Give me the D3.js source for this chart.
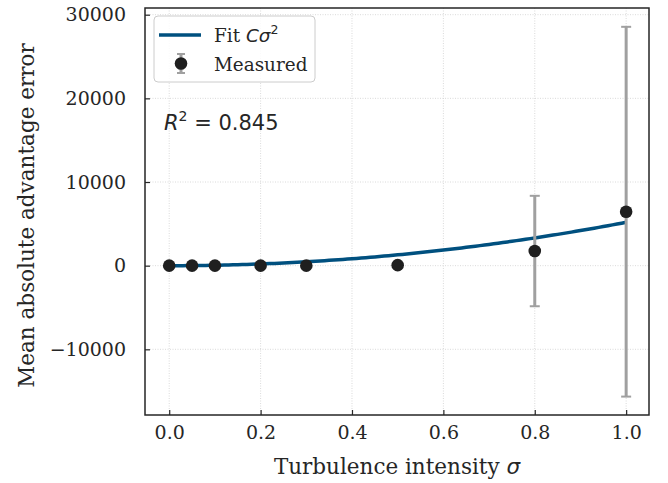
<!DOCTYPE html>
<html>
<head>
<meta charset="utf-8">
<script src="https://cdn.jsdelivr.net/npm/d3@7"></script>
<style>
  body { margin: 0; background: #fff; }
  svg text { font-family: "DejaVu Serif", serif; fill: #262626; }
</style>
</head>
<body>
<div id="chart"></div>
<script>
// measured values
const sigma = [0.0, 0.05, 0.1, 0.2, 0.3, 0.5, 0.8, 1.0];
const meanErr = [0, 0, 0, 0, 0, 60, 1750, 6450];
const stdErr = [0, 0, 0, 0, 0, 0, 6600, 22100];
const fitC = 5180;
const xTicks = [0.0, 0.2, 0.4, 0.6, 0.8, 1.0];
const yTicks = [-10000, 0, 10000, 20000, 30000];

const margin = {top: 8, right: 19, bottom: 68, left: 145},
    width = 668 - margin.left - margin.right,
    height = 483 - margin.top - margin.bottom;

const svg = d3.select("#chart")
  .append("svg")
    .attr("width", 668)
    .attr("height", 483)
  .append("g")
    .attr("transform", `translate(${margin.left},${margin.top})`);

const x = d3.scaleLinear().domain([-0.053, 1.05]).range([0, width]);
const y = d3.scaleLinear().domain([-17850, 30800]).range([height, 0]);

// grid
svg.append("g").selectAll("line").data(xTicks).join("line")
  .attr("x1", d => x(d)).attr("x2", d => x(d))
  .attr("y1", 0).attr("y2", height)
  .attr("stroke", "#d0d0d0").attr("stroke-width", 0.8)
  .attr("stroke-dasharray", "1,1.5");
svg.append("g").selectAll("line").data(yTicks).join("line")
  .attr("y1", d => y(d)).attr("y2", d => y(d))
  .attr("x1", 0).attr("x2", width)
  .attr("stroke", "#d0d0d0").attr("stroke-width", 0.8)
  .attr("stroke-dasharray", "1,1.5");

// axes (inward ticks)
const xAxis = svg.append("g")
  .attr("transform", `translate(0,${height})`)
  .call(d3.axisBottom(x).tickValues(xTicks).tickFormat(d3.format(".1f"))
    .tickSizeInner(-5).tickSizeOuter(0).tickPadding(11));
const yAxis = svg.append("g")
  .call(d3.axisLeft(y).tickValues(yTicks).tickFormat(d => d < 0 ? "\u2212" + Math.abs(d) : d)
    .tickSizeInner(-5).tickSizeOuter(0).tickPadding(19));
[xAxis, yAxis].forEach(a => {
  a.select(".domain").remove();
  a.selectAll("line").attr("stroke", "#262626").attr("stroke-width", 1.2);
  a.selectAll("text").style("font-size", "19px").attr("fill", "#262626");
});

// frame
svg.append("rect")
  .attr("width", width).attr("height", height)
  .attr("fill", "none").attr("stroke", "#262626").attr("stroke-width", 1.5);

// fit curve
const fitX = d3.range(0, 1.0001, 0.01);
svg.append("path")
  .datum(fitX)
  .attr("fill", "none")
  .attr("stroke", "#00507f")
  .attr("stroke-width", 3.5)
  .attr("d", d3.line().x(d => x(d)).y(d => y(fitC * d * d)));

// error bars
const pts = sigma.map((s, i) => ({s: s, m: meanErr[i], e: stdErr[i]}));
const eb = svg.append("g").selectAll("g").data(pts.filter(d => d.e > 0)).join("g")
  .attr("stroke", "#a0a0a0").attr("stroke-width", 3);
eb.append("line")
  .attr("x1", d => x(d.s)).attr("x2", d => x(d.s))
  .attr("y1", d => y(d.m - d.e)).attr("y2", d => y(d.m + d.e));
eb.append("line")
  .attr("x1", d => x(d.s) - 5).attr("x2", d => x(d.s) + 5)
  .attr("y1", d => y(d.m + d.e)).attr("y2", d => y(d.m + d.e)).attr("stroke-width", 2);
eb.append("line")
  .attr("x1", d => x(d.s) - 5).attr("x2", d => x(d.s) + 5)
  .attr("y1", d => y(d.m - d.e)).attr("y2", d => y(d.m - d.e)).attr("stroke-width", 2);

// points
svg.append("g").selectAll("circle").data(pts).join("circle")
  .attr("cx", d => x(d.s)).attr("cy", d => y(d.m))
  .attr("r", 6.3).attr("fill", "#1f1f1f");

// axis labels
svg.append("text")
  .attr("x", width / 2).attr("y", height + 59)
  .attr("text-anchor", "middle").style("font-size", "21.5px")
  .html('Turbulence intensity <tspan font-family="DejaVu Sans" font-style="italic">σ</tspan>');
svg.append("text")
  .attr("transform", `translate(${-111},${height / 2 + 4}) rotate(-90)`)
  .attr("text-anchor", "middle").style("font-size", "21.5px")
  .text("Mean absolute advantage error");

// legend
const lg = svg.append("g").attr("transform", "translate(9,8)");
lg.append("rect")
  .attr("width", 161).attr("height", 66).attr("rx", 4)
  .attr("fill", "#fff").attr("fill-opacity", 0.85)
  .attr("stroke", "#cccccc").attr("stroke-width", 1);
lg.append("line")
  .attr("x1", 5).attr("x2", 47).attr("y1", 19).attr("y2", 19)
  .attr("stroke", "#00507f").attr("stroke-width", 3.5);
lg.append("text").attr("x", 60).attr("y", 26).style("font-size", "18.4px")
  .html('Fit <tspan font-family="DejaVu Sans" font-style="italic">Cσ</tspan><tspan dy="-8" font-size="12.5px" font-family="DejaVu Sans">2</tspan>');
lg.append("line").attr("x1", 27).attr("x2", 27).attr("y1", 38).attr("y2", 57)
  .attr("stroke", "#a0a0a0").attr("stroke-width", 3);
lg.append("line").attr("x1", 23).attr("x2", 31).attr("y1", 38).attr("y2", 38)
  .attr("stroke", "#a0a0a0").attr("stroke-width", 2);
lg.append("line").attr("x1", 23).attr("x2", 31).attr("y1", 57).attr("y2", 57)
  .attr("stroke", "#a0a0a0").attr("stroke-width", 2);
lg.append("circle").attr("cx", 27).attr("cy", 47.5).attr("r", 6.3).attr("fill", "#1f1f1f");
lg.append("text").attr("x", 60).attr("y", 55).style("font-size", "18.4px").text("Measured");

// R^2 annotation
svg.append("text")
  .attr("x", 19).attr("y", 122)
  .style("font-family", "DejaVu Sans").style("font-size", "21px")
  .html('<tspan font-style="italic">R</tspan><tspan dy="-9" font-size="14px">2</tspan><tspan dy="9"> = 0.845</tspan>');
</script>
</body>
</html>
